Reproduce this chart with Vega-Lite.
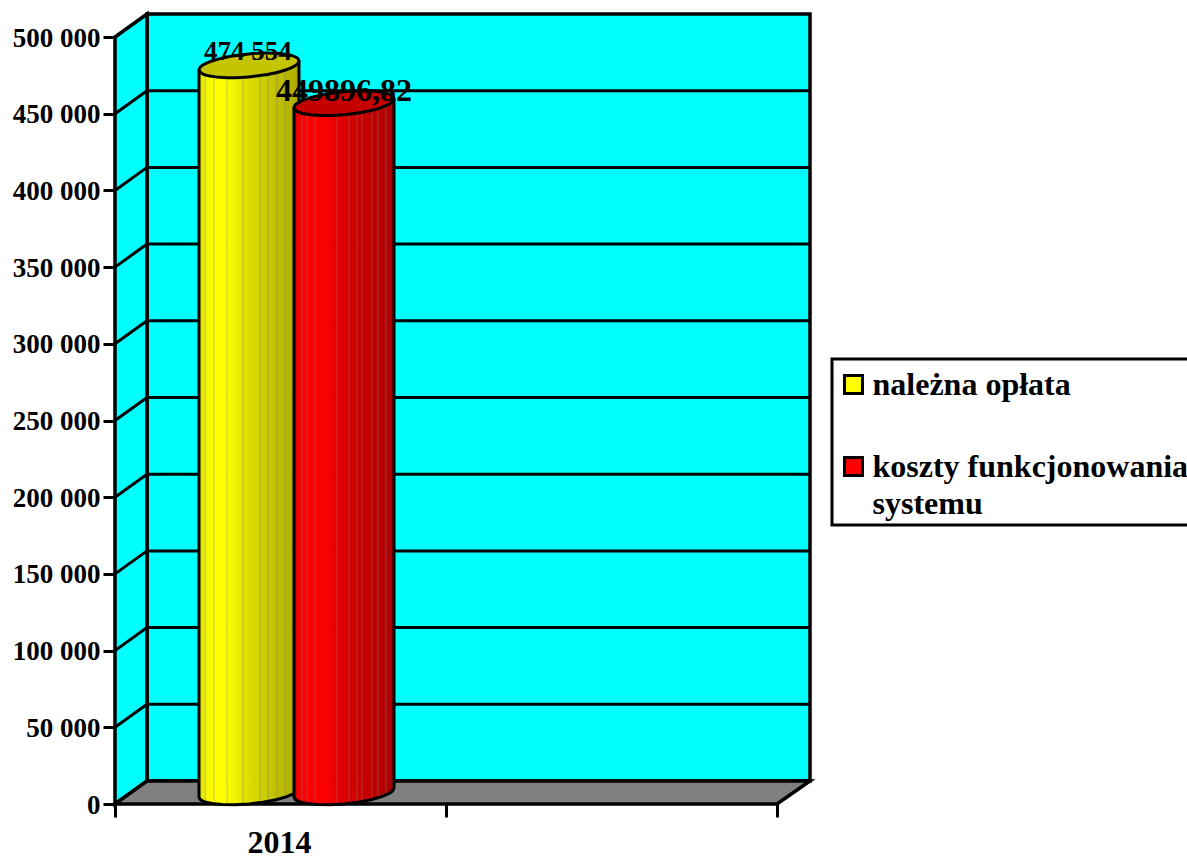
{
"$schema":"https://vega.github.io/schema/vega-lite/v6.json",
"width":695,"height":790,
"autosize":{"type":"none"},
"padding":{"left":115,"top":14,"right":377,"bottom":52},
"background":"white",
"config":{"view":{"stroke":null},"font":"Liberation Serif","style":{"guide-label":{"lineHeight":37}},"legend":{"strokeWidth":3}},
"datasets":{
"backWall":[{"x":0.0967,"x2":2.0997,"y":15000,"y2":515000}],
"leftWall":[{"x":0,"y":0,"y2":500000},{"x":0.0967,"y":15000,"y2":515000}],
"floor":[{"x":0,"y":0,"y2":0},{"x":0.0967,"y":0,"y2":15000},{"x":2,"y":0,"y2":15000},{"x":2.0997,"y":15000,"y2":15000}],
"grid":[
{"g":50000,"o":1,"x":0,"y":50000},{"g":50000,"o":2,"x":0.0967,"y":65000},{"g":50000,"o":3,"x":2.0997,"y":65000},
{"g":100000,"o":1,"x":0,"y":100000},{"g":100000,"o":2,"x":0.0967,"y":115000},{"g":100000,"o":3,"x":2.0997,"y":115000},
{"g":150000,"o":1,"x":0,"y":150000},{"g":150000,"o":2,"x":0.0967,"y":165000},{"g":150000,"o":3,"x":2.0997,"y":165000},
{"g":200000,"o":1,"x":0,"y":200000},{"g":200000,"o":2,"x":0.0967,"y":215000},{"g":200000,"o":3,"x":2.0997,"y":215000},
{"g":250000,"o":1,"x":0,"y":250000},{"g":250000,"o":2,"x":0.0967,"y":265000},{"g":250000,"o":3,"x":2.0997,"y":265000},
{"g":300000,"o":1,"x":0,"y":300000},{"g":300000,"o":2,"x":0.0967,"y":315000},{"g":300000,"o":3,"x":2.0997,"y":315000},
{"g":350000,"o":1,"x":0,"y":350000},{"g":350000,"o":2,"x":0.0967,"y":365000},{"g":350000,"o":3,"x":2.0997,"y":365000},
{"g":400000,"o":1,"x":0,"y":400000},{"g":400000,"o":2,"x":0.0967,"y":415000},{"g":400000,"o":3,"x":2.0997,"y":415000},
{"g":450000,"o":1,"x":0,"y":450000},{"g":450000,"o":2,"x":0.0967,"y":465000},{"g":450000,"o":3,"x":2.0997,"y":465000}
],
"stripsYellow":[
{"series":"należna opłata","x":0.2538,"x2":0.2659,"y":2934,"y2":478700,"shade":0.10},
{"series":"należna opłata","x":0.2659,"x2":0.2779,"y":1956,"y2":478935,"shade":0.05},
{"series":"należna opłata","x":0.2779,"x2":0.2900,"y":978,"y2":479170,"shade":0.02},
{"series":"należna opłata","x":0.2900,"x2":0.3021,"y":326,"y2":479405,"shade":0},
{"series":"należna opłata","x":0.3021,"x2":0.3142,"y":0,"y2":479640,"shade":0},
{"series":"należna opłata","x":0.3142,"x2":0.3263,"y":-326,"y2":479875,"shade":0},
{"series":"należna opłata","x":0.3263,"x2":0.3384,"y":-652,"y2":480110,"shade":0},
{"series":"należna opłata","x":0.3384,"x2":0.3505,"y":-652,"y2":480345,"shade":0.02},
{"series":"należna opłata","x":0.3505,"x2":0.3625,"y":-652,"y2":480580,"shade":0.04},
{"series":"należna opłata","x":0.3625,"x2":0.3746,"y":-652,"y2":480815,"shade":0.06},
{"series":"należna opłata","x":0.3746,"x2":0.3867,"y":-326,"y2":481050,"shade":0.09},
{"series":"należna opłata","x":0.3867,"x2":0.3988,"y":0,"y2":481285,"shade":0.11},
{"series":"należna opłata","x":0.3988,"x2":0.4109,"y":0,"y2":481520,"shade":0.13},
{"series":"należna opłata","x":0.4109,"x2":0.4230,"y":326,"y2":481755,"shade":0.15},
{"series":"należna opłata","x":0.4230,"x2":0.4350,"y":978,"y2":481990,"shade":0.16},
{"series":"należna opłata","x":0.4350,"x2":0.4471,"y":1304,"y2":482225,"shade":0.18},
{"series":"należna opłata","x":0.4471,"x2":0.4592,"y":1956,"y2":482460,"shade":0.20},
{"series":"należna opłata","x":0.4592,"x2":0.4713,"y":2608,"y2":482695,"shade":0.22},
{"series":"należna opłata","x":0.4713,"x2":0.4834,"y":2934,"y2":482930,"shade":0.23},
{"series":"należna opłata","x":0.4834,"x2":0.4955,"y":3586,"y2":483165,"shade":0.25},
{"series":"należna opłata","x":0.4955,"x2":0.5076,"y":4238,"y2":483400,"shade":0.26},
{"series":"należna opłata","x":0.5076,"x2":0.5196,"y":5216,"y2":483635,"shade":0.28},
{"series":"należna opłata","x":0.5196,"x2":0.5317,"y":6194,"y2":483870,"shade":0.29},
{"series":"należna opłata","x":0.5317,"x2":0.5438,"y":7172,"y2":484105,"shade":0.31},
{"series":"należna opłata","x":0.5438,"x2":0.5559,"y":8476,"y2":484340,"shade":0.33}
],
"stripsRed":[
{"series":"koszty funkcjonowania systemu","x":0.5408,"x2":0.5529,"y":2934,"y2":454040,"shade":0.10},
{"series":"koszty funkcjonowania systemu","x":0.5529,"x2":0.5649,"y":1956,"y2":454280,"shade":0.05},
{"series":"koszty funkcjonowania systemu","x":0.5649,"x2":0.5770,"y":978,"y2":454510,"shade":0.02},
{"series":"koszty funkcjonowania systemu","x":0.5770,"x2":0.5891,"y":326,"y2":454750,"shade":0},
{"series":"koszty funkcjonowania systemu","x":0.5891,"x2":0.6012,"y":0,"y2":454980,"shade":0},
{"series":"koszty funkcjonowania systemu","x":0.6012,"x2":0.6133,"y":-326,"y2":455220,"shade":0},
{"series":"koszty funkcjonowania systemu","x":0.6133,"x2":0.6254,"y":-652,"y2":455450,"shade":0},
{"series":"koszty funkcjonowania systemu","x":0.6254,"x2":0.6375,"y":-652,"y2":455690,"shade":0.02},
{"series":"koszty funkcjonowania systemu","x":0.6375,"x2":0.6495,"y":-652,"y2":455920,"shade":0.04},
{"series":"koszty funkcjonowania systemu","x":0.6495,"x2":0.6616,"y":-652,"y2":456160,"shade":0.06},
{"series":"koszty funkcjonowania systemu","x":0.6616,"x2":0.6737,"y":-326,"y2":456390,"shade":0.09},
{"series":"koszty funkcjonowania systemu","x":0.6737,"x2":0.6858,"y":0,"y2":456630,"shade":0.11},
{"series":"koszty funkcjonowania systemu","x":0.6858,"x2":0.6979,"y":0,"y2":456860,"shade":0.13},
{"series":"koszty funkcjonowania systemu","x":0.6979,"x2":0.7100,"y":326,"y2":457100,"shade":0.15},
{"series":"koszty funkcjonowania systemu","x":0.7100,"x2":0.7220,"y":978,"y2":457330,"shade":0.16},
{"series":"koszty funkcjonowania systemu","x":0.7220,"x2":0.7341,"y":1304,"y2":457570,"shade":0.18},
{"series":"koszty funkcjonowania systemu","x":0.7341,"x2":0.7462,"y":1956,"y2":457800,"shade":0.20},
{"series":"koszty funkcjonowania systemu","x":0.7462,"x2":0.7583,"y":2608,"y2":458040,"shade":0.22},
{"series":"koszty funkcjonowania systemu","x":0.7583,"x2":0.7704,"y":2934,"y2":458270,"shade":0.23},
{"series":"koszty funkcjonowania systemu","x":0.7704,"x2":0.7825,"y":3586,"y2":458510,"shade":0.25},
{"series":"koszty funkcjonowania systemu","x":0.7825,"x2":0.7946,"y":4238,"y2":458740,"shade":0.26},
{"series":"koszty funkcjonowania systemu","x":0.7946,"x2":0.8066,"y":5216,"y2":458980,"shade":0.28},
{"series":"koszty funkcjonowania systemu","x":0.8066,"x2":0.8187,"y":6194,"y2":459210,"shade":0.29},
{"series":"koszty funkcjonowania systemu","x":0.8187,"x2":0.8308,"y":7172,"y2":459450,"shade":0.31},
{"series":"koszty funkcjonowania systemu","x":0.8308,"x2":0.8429,"y":8476,"y2":459680,"shade":0.33}
],
"seamsYellow":[
{"x":0.2719,"y":1800,"y2":476000},{"x":0.2991,"y":700,"y2":476000},{"x":0.3384,"y":0,"y2":476000},{"x":0.3867,"y":0,"y2":476000},{"x":0.4381,"y":1500,"y2":477000},{"x":0.4622,"y":2500,"y2":478000},{"x":0.4894,"y":3500,"y2":479000},{"x":0.5136,"y":5000,"y2":480000}
],
"seamsRed":[
{"x":0.5650,"y":1500,"y2":451000},{"x":0.5801,"y":700,"y2":451000},{"x":0.6042,"y":0,"y2":451000},{"x":0.6707,"y":0,"y2":451000},{"x":0.7069,"y":1000,"y2":452000},{"x":0.7311,"y":1800,"y2":452000},{"x":0.7462,"y":2500,"y2":453000},{"x":0.7764,"y":4000,"y2":454000},{"x":0.7946,"y":5000,"y2":455000},{"x":0.8187,"y":7000,"y2":457000}
],
"outlineYellow":[
{"o":1,"x":0.2538,"y":478568},{"o":2,"x":0.2538,"y":4568},{"o":3,"x":0.2568,"y":3134},{"o":4,"x":0.2628,"y":2221},{"o":5,"x":0.2749,"y":1112},{"o":6,"x":0.2931,"y":330},{"o":7,"x":0.3233,"y":-387},{"o":8,"x":0.3625,"y":-518},{"o":9,"x":0.4048,"y":4},{"o":10,"x":0.4471,"y":1178},{"o":11,"x":0.4864,"y":2742},{"o":12,"x":0.5166,"y":4633},{"o":13,"x":0.5347,"y":6198},{"o":14,"x":0.5468,"y":7698},{"o":15,"x":0.5529,"y":8871},{"o":16,"x":0.5559,"y":10436},{"o":17,"x":0.5559,"y":484436}
],
"outlineRed":[
{"o":1,"x":0.5408,"y":453910},{"o":2,"x":0.5408,"y":4568},{"o":3,"x":0.5438,"y":3134},{"o":4,"x":0.5498,"y":2221},{"o":5,"x":0.5619,"y":1112},{"o":6,"x":0.5801,"y":330},{"o":7,"x":0.6103,"y":-387},{"o":8,"x":0.6495,"y":-518},{"o":9,"x":0.6918,"y":4},{"o":10,"x":0.7341,"y":1178},{"o":11,"x":0.7734,"y":2742},{"o":12,"x":0.8036,"y":4633},{"o":13,"x":0.8217,"y":6198},{"o":14,"x":0.8338,"y":7698},{"o":15,"x":0.8399,"y":8871},{"o":16,"x":0.8429,"y":10436},{"o":17,"x":0.8429,"y":459778}
],
"capYellow":[
{"x":0.2538,"y":478568,"y2":478568},{"x":0.2568,"y":477134,"y2":480133},{"x":0.2628,"y":476221,"y2":481306},{"x":0.2749,"y":475112,"y2":482806},{"x":0.2931,"y":474330,"y2":484371},{"x":0.3233,"y":473613,"y2":486262},{"x":0.3625,"y":473482,"y2":487826},{"x":0.4048,"y":474004,"y2":489000},{"x":0.4471,"y":475178,"y2":489522},{"x":0.4864,"y":476742,"y2":489391},{"x":0.5166,"y":478633,"y2":488674},{"x":0.5347,"y":480198,"y2":487892},{"x":0.5468,"y":481698,"y2":486783},{"x":0.5529,"y":482871,"y2":485870},{"x":0.5559,"y":484436,"y2":484436}
],
"capRed":[
{"x":0.5408,"y":453910,"y2":453910},{"x":0.5438,"y":452476,"y2":455475},{"x":0.5498,"y":451563,"y2":456648},{"x":0.5619,"y":450454,"y2":458148},{"x":0.5801,"y":449672,"y2":459713},{"x":0.6103,"y":448955,"y2":461604},{"x":0.6495,"y":448824,"y2":463168},{"x":0.6918,"y":449346,"y2":464342},{"x":0.7341,"y":450520,"y2":464864},{"x":0.7734,"y":452084,"y2":464733},{"x":0.8036,"y":453975,"y2":464016},{"x":0.8217,"y":455540,"y2":463234},{"x":0.8338,"y":457040,"y2":462125},{"x":0.8399,"y":458213,"y2":461212},{"x":0.8429,"y":459778,"y2":459778}
]
},
"encoding":{
"x":{"field":"x","type":"quantitative","scale":{"domain":[0,2.0997],"nice":false,"zero":false},
"axis":{"title":null,"values":[0,1,2],"labels":false,"domain":false,"grid":false,"ticks":true,"tickColor":"black","tickWidth":3,"tickSize":13}},
"y":{"field":"y","type":"quantitative","stack":null,"scale":{"domain":[0,515000],"nice":false,"zero":false},
"axis":{"title":null,"values":[0,50000,100000,150000,200000,250000,300000,350000,400000,450000,500000],"labelExpr":"replace(format(datum.value,','),',',' ')","domain":false,"grid":false,"tickColor":"black","tickWidth":3,"tickSize":12,"labelPadding":3,"labelOffset":1,"labelFont":"Liberation Serif","labelFontWeight":"bold","labelFontSize":27,"labelColor":"black"}}
},
"layer":[
{"data":{"name":"backWall"},"mark":{"type":"rect","fill":"#00ffff","stroke":"black","strokeWidth":3.5},"encoding":{"x2":{"field":"x2"},"y2":{"field":"y2"}}},
{"data":{"name":"leftWall"},"mark":{"type":"area","fill":"#00ffff","stroke":"black","strokeWidth":3.5},"encoding":{"y2":{"field":"y2"}}},
{"data":{"name":"grid"},"mark":{"type":"line","color":"black","strokeWidth":3},"encoding":{"detail":{"field":"g"},"order":{"field":"o"}}},
{"data":{"name":"floor"},"mark":{"type":"area","fill":"#808080","stroke":"black","strokeWidth":3.5},"encoding":{"y2":{"field":"y2"}}},
{"data":{"name":"stripsYellow"},"mark":{"type":"rect"},"encoding":{"x2":{"field":"x2"},"y2":{"field":"y2"},
"fill":{"field":"series","type":"nominal","scale":{"domain":["należna opłata","koszty funkcjonowania systemu"],"range":["#ffff00","#ff0000"]},
"legend":{"title":" ","titleFontSize":4,"titlePadding":0,"orient":"none","legendX":717,"legendY":345,"symbolType":"square","symbolSize":324,"symbolStrokeColor":"black","symbolStrokeWidth":3,"labelFont":"Liberation Serif","labelFontWeight":"bold","labelFontSize":32,"labelColor":"black","labelLimit":600,"labelOffset":3,"strokeColor":"black","fillColor":"white","padding":5.5,"rowPadding":50,"labelExpr":"datum.label=='koszty funkcjonowania systemu'?['koszty funkcjonowania','systemu']:datum.label"}}}},
{"data":{"name":"stripsYellow"},"mark":{"type":"rect","fill":"black"},"encoding":{"x2":{"field":"x2"},"y2":{"field":"y2"},"opacity":{"field":"shade","type":"quantitative","scale":{"domain":[0,1],"range":[0,1]},"legend":null}}},
{"data":{"name":"seamsYellow"},"mark":{"type":"rule","color":"#808080","opacity":0.45,"strokeWidth":1},"encoding":{"y2":{"field":"y2"}}},
{"data":{"name":"outlineYellow"},"mark":{"type":"line","color":"black","strokeWidth":3},"encoding":{"order":{"field":"o"}}},
{"data":{"name":"capYellow"},"mark":{"type":"area","fill":"#c4c400","stroke":"black","strokeWidth":3,"interpolate":"monotone"},"encoding":{"y2":{"field":"y2"}}},
{"data":{"name":"stripsRed"},"mark":{"type":"rect"},"encoding":{"x2":{"field":"x2"},"y2":{"field":"y2"},"fill":{"field":"series","type":"nominal"}}},
{"data":{"name":"stripsRed"},"mark":{"type":"rect","fill":"black"},"encoding":{"x2":{"field":"x2"},"y2":{"field":"y2"},"opacity":{"field":"shade","type":"quantitative","legend":null}}},
{"data":{"name":"seamsRed"},"mark":{"type":"rule","color":"#808080","opacity":0.45,"strokeWidth":1},"encoding":{"y2":{"field":"y2"}}},
{"data":{"name":"outlineRed"},"mark":{"type":"line","color":"black","strokeWidth":3},"encoding":{"order":{"field":"o"}}},
{"data":{"name":"capRed"},"mark":{"type":"area","fill":"#c40000","stroke":"black","strokeWidth":3,"interpolate":"monotone"},"encoding":{"y2":{"field":"y2"}}},
{"data":{"values":[{"x":0.4018,"y":474554,"label":"474 554"}]},"mark":{"type":"text","font":"Liberation Serif","fontWeight":"bold","fontSize":27,"color":"black","dy":-24},"encoding":{"text":{"field":"label"}}},
{"data":{"values":[{"x":0.6918,"y":449896.82,"label":"449896,82"}]},"mark":{"type":"text","font":"Liberation Serif","fontWeight":"bold","fontSize":32,"color":"black","dy":-23},"encoding":{"text":{"field":"label"}}},
{"data":{"values":[{"x":0.497,"y":0,"label":"2014"}]},"mark":{"type":"text","font":"Liberation Serif","fontWeight":"bold","fontSize":32,"color":"black","dy":39},"encoding":{"text":{"field":"label"}}}
]
}
